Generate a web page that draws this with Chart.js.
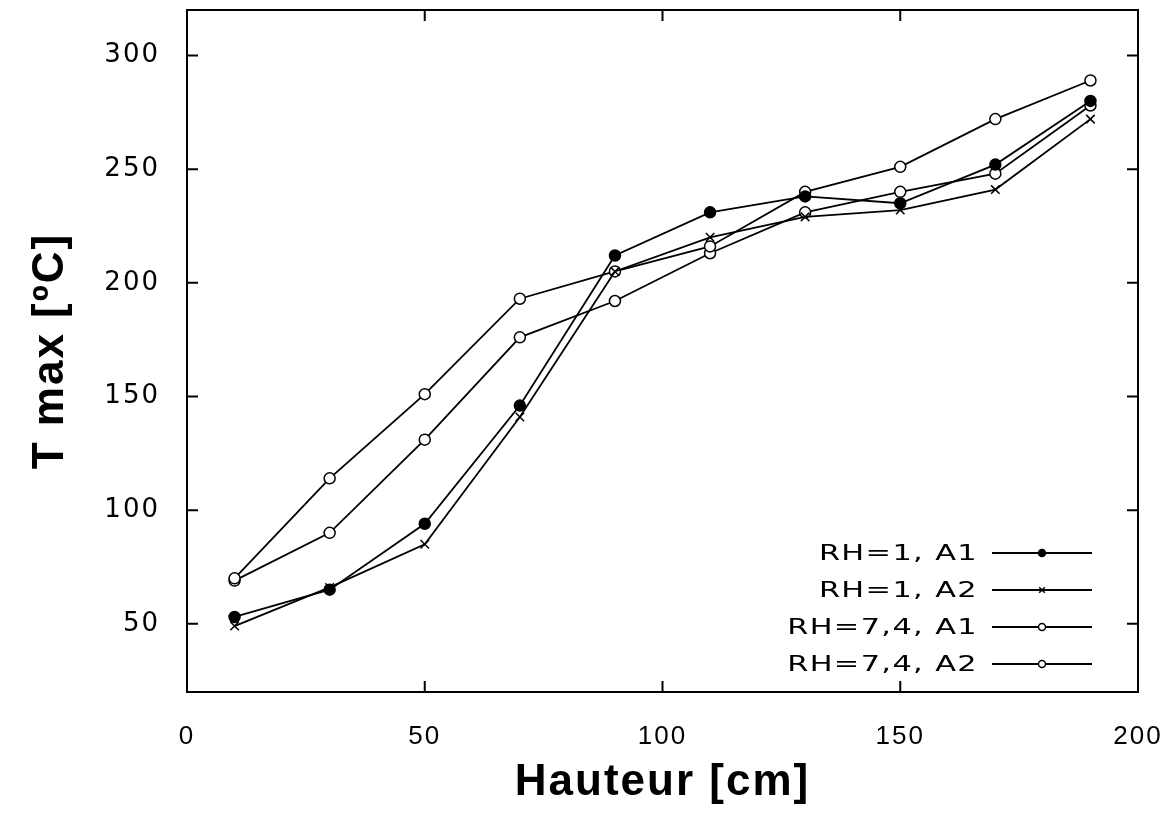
<!DOCTYPE html>
<html>
<head>
<meta charset="utf-8">
<script src="https://cdn.jsdelivr.net/npm/chart.js@4.4.1/dist/chart.umd.min.js"></script>
<style>
  html, body { margin: 0; padding: 0; background: #fff; }
</style>
</head>
<body>
<canvas id="tmaxChart" width="1176" height="814"></canvas>
<script>
// Hauteur (cm) and T max (°C) per test series
const hauteurs = [10, 30, 50, 70, 90, 110, 130, 150, 170, 190];
const rh1A1 = [53, 65, 94, 146, 212, 231, 238, 235, 252, 280];
const rh1A2 = [49, 66, 85, 141, 205, 220, 229, 232, 241, 272];
const rh74A1 = [70, 114, 151, 193, 205, 216, 240, 251, 272, 289];
const rh74A2 = [69, 90, 131, 176, 192, 213, 231, 240, 248, 278];
const seriesLabels = ["RH=1, A1", "RH=1, A2", "RH=7,4, A1", "RH=7,4, A2"];
const xTicks = [0, 50, 100, 150, 200];
const yTicks = [50, 100, 150, 200, 250, 300];

const toPoints = vals => vals.map((v, i) => ({ x: hauteurs[i], y: v }));

// gnuplot-like box: frame plus inward ticks on every side
const framePlugin = {
    id: "frame",
    beforeDraw(chart) {
        chart.ctx.letterSpacing = "2px";
    },
    beforeDatasetsDraw(chart) {
        const { ctx, chartArea: a, scales: { x, y } } = chart;
        ctx.save();
        ctx.strokeStyle = "#000";
        ctx.lineWidth = 2;
        ctx.strokeRect(a.left, a.top, a.right - a.left, a.bottom - a.top);
        ctx.beginPath();
        xTicks.forEach(v => {
            const px = x.getPixelForValue(v);
            ctx.moveTo(px, a.bottom); ctx.lineTo(px, a.bottom - 11);
            ctx.moveTo(px, a.top); ctx.lineTo(px, a.top + 11);
        });
        yTicks.forEach(v => {
            const py = y.getPixelForValue(v);
            ctx.moveTo(a.left, py); ctx.lineTo(a.left + 11, py);
            ctx.moveTo(a.right, py); ctx.lineTo(a.right - 11, py);
        });
        ctx.stroke();
        ctx.restore();
    }
};

// legend drawn inside the plot, bottom right, text left of the sample line
const insideLegend = {
    id: "insideLegend",
    afterDraw(chart) {
        const { ctx, chartArea: a } = chart;
        const n = chart.data.datasets.length;
        const lineEnd = a.right - 46;
        const lineStart = lineEnd - 100;
        ctx.save();
        chart.data.datasets.forEach((ds, i) => {
            const rowY = a.bottom - 28 - (n - 1 - i) * 37;
            ctx.strokeStyle = "#000";
            ctx.lineWidth = 2;
            ctx.beginPath();
            ctx.moveTo(lineStart, rowY);
            ctx.lineTo(lineEnd, rowY);
            ctx.stroke();

            ctx.fillStyle = ds.pointBackgroundColor;
            ctx.strokeStyle = "#000";
            ctx.lineWidth = 1.5;
            Chart.helpers.drawPoint(ctx, {
                pointStyle: ds.pointStyle,
                radius: ds.pointRadius - 2,
                borderWidth: 1.5,
                rotation: 0
            }, (lineStart + lineEnd) / 2, rowY);

            ctx.save();
            ctx.translate(lineStart - 14, rowY);
            ctx.scale(1.38, 1);
            ctx.letterSpacing = "1px";
            ctx.font = '22px "DejaVu Sans"';
            ctx.fillStyle = "#000";
            ctx.textAlign = "right";
            ctx.textBaseline = "middle";
            ctx.fillText(ds.label, 0, 1);
            ctx.restore();
        });
        ctx.letterSpacing = "0px";
        ctx.restore();
    }
};

function makeDataset(label, vals, style, fill) {
    return {
        label: label,
        data: toPoints(vals),
        borderColor: "#000",
        backgroundColor: "#000",
        borderWidth: 1.8,
        pointStyle: style,
        pointRadius: style === "crossRot" ? 6 : 5.5,
        pointBorderWidth: 1.5,
        pointBorderColor: "#000",
        pointBackgroundColor: fill,
        tension: 0
    };
}

new Chart(document.getElementById("tmaxChart"), {
    type: "line",
    data: {
        datasets: [
            makeDataset(seriesLabels[0], rh1A1, "circle", "#000"),
            makeDataset(seriesLabels[1], rh1A2, "crossRot", "#000"),
            makeDataset(seriesLabels[2], rh74A1, "circle", "#fff"),
            makeDataset(seriesLabels[3], rh74A2, "circle", "#fff")
        ]
    },
    options: {
        responsive: false,
        animation: false,
        layout: { padding: { left: 0, right: 38, top: 10, bottom: 0 } },
        plugins: {
            legend: { display: false },
            tooltip: { enabled: false }
        },
        scales: {
            x: {
                type: "linear",
                min: 0,
                max: 200,
                afterBuildTicks: scale => { scale.ticks = xTicks.map(v => ({ value: v })); },
                afterFit: scale => {
                    scale.height = 122;
                    scale.paddingLeft = 0;
                    scale.paddingRight = 0;
                },
                grid: { display: false },
                border: { display: false },
                ticks: {
                    padding: 21,
                    maxRotation: 0,
                    color: "#000",
                    font: { family: "Liberation Sans", size: 26 }
                },
                title: {
                    display: true,
                    text: "Hauteur [cm]",
                    color: "#000",
                    font: { family: "Liberation Sans", size: 44, weight: "bold" },
                    padding: { top: 0, bottom: 5 }
                }
            },
            y: {
                type: "linear",
                min: 20,
                max: 320,
                afterBuildTicks: scale => { scale.ticks = yTicks.map(v => ({ value: v })); },
                afterFit: scale => {
                    scale.width = 187;
                    scale.paddingTop = 0;
                    scale.paddingBottom = 0;
                },
                grid: { display: false },
                border: { display: false },
                ticks: {
                    padding: 19,
                    color: "#000",
                    font: { family: "DejaVu Sans", size: 26 }
                },
                title: {
                    display: true,
                    text: "T max [ºC]",
                    color: "#000",
                    font: { family: "Liberation Sans", size: 44, weight: "bold" },
                    padding: { top: 24, bottom: 0 }
                }
            }
        }
    },
    plugins: [framePlugin, insideLegend]
});
</script>
</body>
</html>
